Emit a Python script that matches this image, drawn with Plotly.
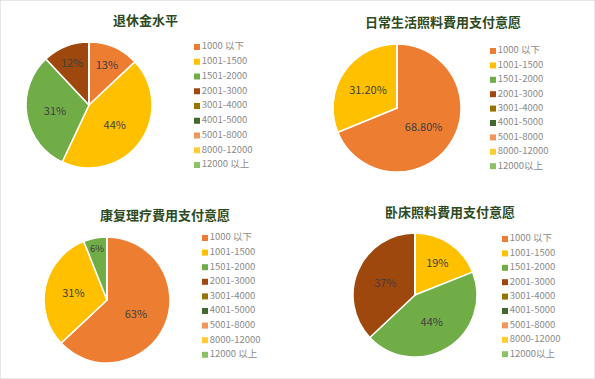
import plotly.graph_objects as go

W, H = 595, 379

categories_a = ["1000 以下", "1001-1500", "1501-2000", "2001-3000", "3001-4000",
                "4001-5000", "5001-8000", "8000-12000", "12000 以上"]
categories_b = ["1000 以下", "1001-1500", "1501-2000", "2001-3000", "3001-4000",
                "4001-5000", "5001-8000", "8000-12000", "12000以上"]

colors = ["#ED7D31", "#FFC000", "#70AD47", "#9E480E", "#997300",
          "#43682B", "#F1975A", "#FFCD33", "#8CC168"]

titles = ["退休金水平", "日常生活照料費用支付意愿", "康复理疗費用支付意愿", "卧床照料費用支付意愿"]

values_1 = [13, 44, 31, 12, 0, 0, 0, 0, 0]
values_2 = [68.8, 31.2, 0, 0, 0, 0, 0, 0, 0]
values_3 = [63, 31, 6, 0, 0, 0, 0, 0, 0]
values_4 = [0, 19, 44, 37, 0, 0, 0, 0, 0]

charts = [
    dict(values=values_1, cats=categories_a, fmt="%{percent:.0%}",
         pie_px=(89, 105, 63), leg_px=(197, 47, 14.75), title_px=(145, 20)),
    dict(values=values_2, cats=categories_b, fmt="%{percent:.2%}",
         pie_px=(397, 108, 64), leg_px=(493, 51, 14.4), title_px=(443, 21)),
    dict(values=values_3, cats=categories_a, fmt="%{percent:.0%}",
         pie_px=(107, 300, 63), leg_px=(205, 238, 14.6), title_px=(165, 214)),
    dict(values=values_4, cats=categories_b, fmt="%{percent:.0%}",
         pie_px=(415, 295, 62), leg_px=(505, 239, 14.4), title_px=(450, 211)),
]

fig = go.Figure()
annotations = []
layout_axes = {}

for i, ch in enumerate(charts):
    cx, cy, r = ch["pie_px"]
    fig.add_trace(go.Pie(
        labels=ch["cats"], values=ch["values"], sort=False, direction="clockwise",
        rotation=0, marker=dict(colors=colors, line=dict(color="white", width=1.5)),
        texttemplate=ch["fmt"], textposition="inside", insidetextorientation="horizontal",
        textfont=dict(family="Noto Sans CJK SC", size=11, color="#404040"),
        showlegend=False, hoverinfo="label+percent",
        domain=dict(x=[(cx - r) / W, (cx + r) / W], y=[1 - (cy + r) / H, 1 - (cy - r) / H]),
    ))
    # legend drawn as square markers with labels on a hidden category axis
    lx, ly0, step = ch["leg_px"]
    n = len(ch["cats"])
    top = ly0 - step / 2
    bot = top + step * n
    k = i + 1
    xa = "x" if k == 1 else f"x{k}"
    ya = "y" if k == 1 else f"y{k}"
    fig.add_trace(go.Scatter(
        x=[0] * n, y=ch["cats"], mode="markers+text", xaxis=xa, yaxis=ya,
        marker=dict(symbol="square", size=6, color=colors),
        text=ch["cats"], textposition="middle right",
        textfont=dict(family="Noto Sans CJK SC", size=9.5, color="#8A8A8A"),
        cliponaxis=False, showlegend=False, hoverinfo="skip",
    ))
    xkey = "xaxis" if k == 1 else f"xaxis{k}"
    ykey = "yaxis" if k == 1 else f"yaxis{k}"
    layout_axes[xkey] = dict(domain=[lx / W, (lx + 90) / W], range=[0, 1], visible=False,
                             anchor=ya, fixedrange=True)
    layout_axes[ykey] = dict(domain=[1 - bot / H, 1 - top / H], type="category",
                             range=[n - 0.5, -0.5], visible=False, anchor=xa, fixedrange=True)
    tx, ty = ch["title_px"]
    annotations.append(dict(text="<b>" + titles[i] + "</b>", x=tx / W, y=1 - ty / H,
                            xref="paper", yref="paper", xanchor="center", yanchor="middle",
                            showarrow=False,
                            font=dict(family="Noto Sans CJK SC", size=13, color="#2D4A22")))

fig.update_layout(
    width=W, height=H, margin=dict(l=0, r=0, t=0, b=0),
    paper_bgcolor="white", plot_bgcolor="white",
    annotations=annotations,
    shapes=[dict(type="rect", xref="paper", yref="paper", x0=0, y0=0, x1=1, y1=1,
                 line=dict(color="#D0D0D0", width=1))],
    **layout_axes,
)

fig.write_html("out.html")
